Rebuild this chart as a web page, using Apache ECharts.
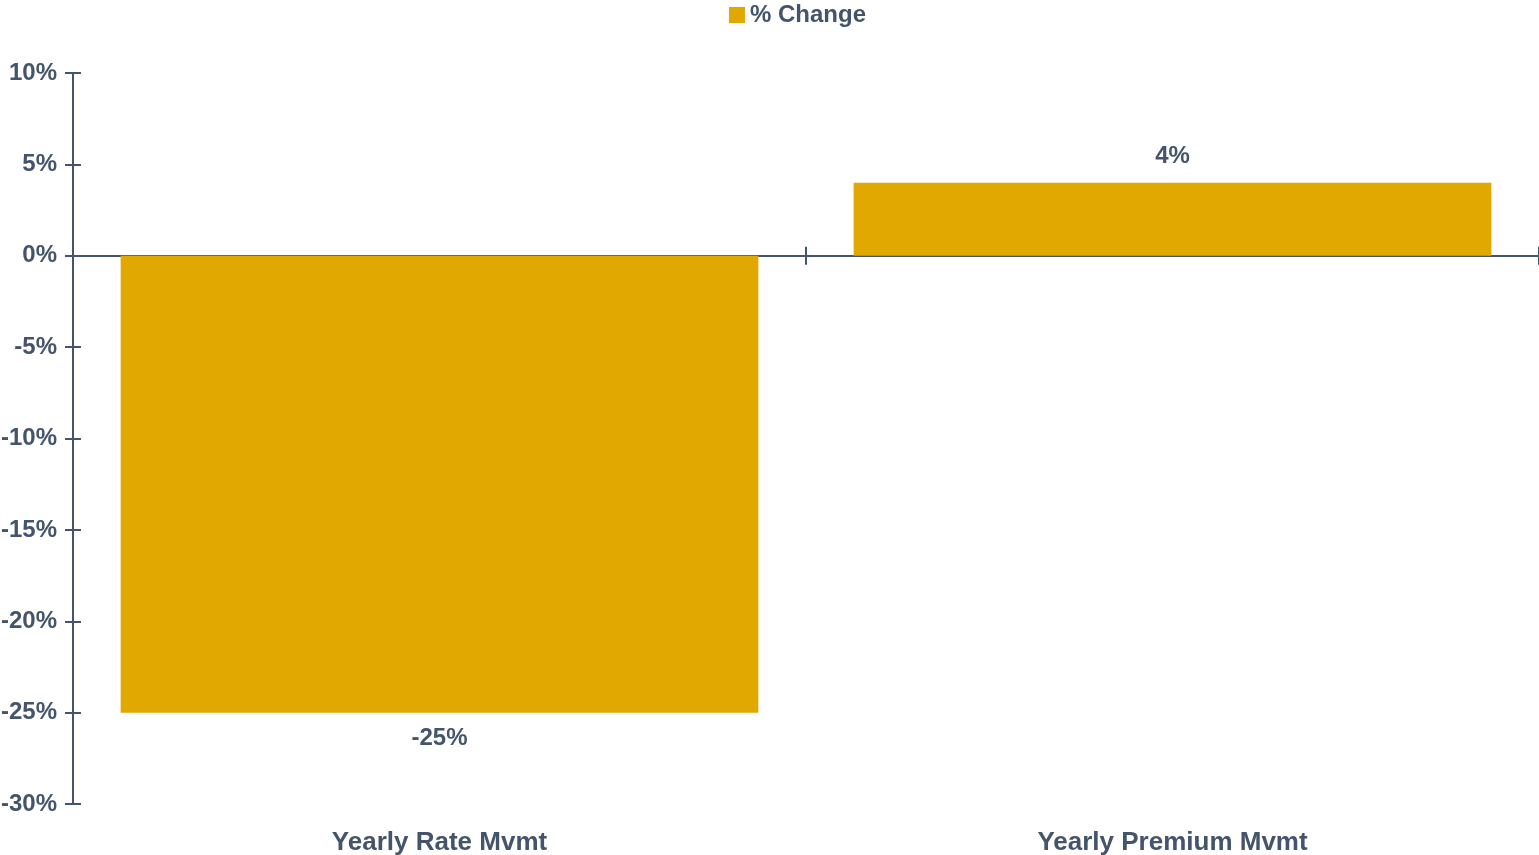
<!DOCTYPE html>
<html>
<head>
<meta charset="utf-8">
<script src="https://cdn.jsdelivr.net/npm/echarts@6/dist/echarts.min.js"></script>
<style>
html,body{margin:0;padding:0;background:#fff;}
#chart{width:1539px;height:855px;}
</style>
</head>
<body>
<div id="chart"></div>
<script>
const categories = ['Yearly Rate Mvmt', 'Yearly Premium Mvmt'];
const changeValues = [-25, 4];
const seriesName = '% Change';

const textColor = '#44546A';
const barColor = '#E0A800';
const font = '"Liberation Sans", Arial, sans-serif';

const chart = echarts.init(document.getElementById('chart'));
chart.setOption({
  animation: false,
  textStyle: { fontFamily: font },
  legend: {
    top: -2,
    left: 724,
    itemWidth: 16,
    itemHeight: 16,
    itemGap: 7,
    icon: 'rect',
    textStyle: { color: textColor, fontSize: 24, fontWeight: 'bold', fontFamily: font },
    data: [seriesName]
  },
  grid: { left: 73, right: 0, top: 73, bottom: 51, containLabel: false, outerBoundsMode: 'none' },
  xAxis: [
    {
      type: 'category', data: categories, position: 'bottom',
      axisLine: { onZero: true, lineStyle: { color: textColor, width: 2 } },
      axisTick: { show: true, length: 9, lineStyle: { color: textColor, width: 2 } },
      axisLabel: { show: false }
    },
    {
      type: 'category', data: categories, position: 'bottom',
      axisLine: { show: false, onZero: false },
      axisTick: { show: false },
      axisLabel: { show: true, margin: 26, color: textColor, fontSize: 26, fontWeight: 'bold', fontFamily: font }
    },
    {
      type: 'category', data: categories, position: 'bottom',
      axisLine: { show: true, onZero: true, lineStyle: { color: textColor, width: 2, opacity: 0 } },
      axisTick: { show: true, inside: true, length: 9, lineStyle: { color: textColor, width: 2 } },
      axisLabel: { show: false }
    }
  ],
  yAxis: [
    {
      type: 'value', min: -30, max: 10, interval: 5, position: 'left',
      axisLine: { show: true, onZero: false, lineStyle: { color: textColor, width: 2 } },
      axisTick: { show: true, length: 8, lineStyle: { color: textColor, width: 2 } },
      splitLine: { show: false },
      axisLabel: { margin: 16, color: textColor, fontSize: 24, fontWeight: 'bold', fontFamily: font, formatter: '{value}%' }
    },
    {
      type: 'value', min: -30, max: 10, interval: 5, position: 'left',
      axisLine: { show: true, onZero: false, lineStyle: { color: textColor, width: 2, opacity: 0 } },
      axisTick: { show: true, inside: true, length: 8, lineStyle: { color: textColor, width: 2 } },
      splitLine: { show: false },
      axisLabel: { show: false }
    }
  ],
  series: [
    {
      name: seriesName,
      type: 'bar',
      xAxisIndex: 0,
      yAxisIndex: 0,
      barCategoryGap: '13%',
      itemStyle: { color: barColor },
      data: changeValues.map(v => ({
        value: v,
        label: { position: v < 0 ? 'bottom' : 'top' }
      })),
      label: {
        show: true,
        distance: 14,
        color: textColor,
        fontSize: 24,
        fontWeight: 'bold',
        fontFamily: font,
        formatter: p => p.value + '%'
      }
    }
  ]
});
</script>
</body>
</html>
